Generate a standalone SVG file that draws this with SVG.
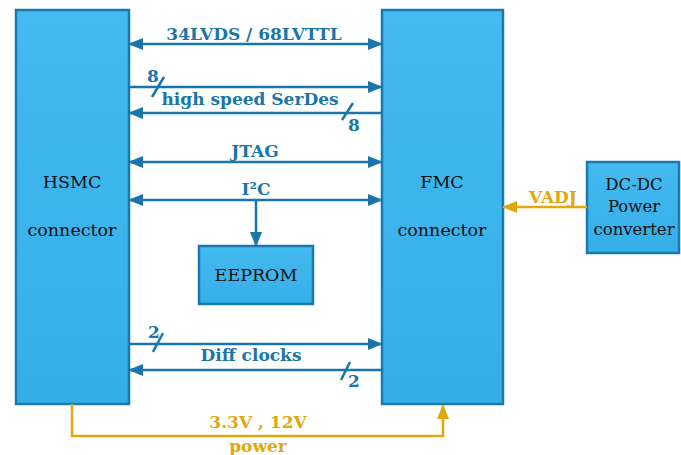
<svg xmlns="http://www.w3.org/2000/svg" width="681" height="455" viewBox="0 0 681 455">
<defs>
<linearGradient id="bg" x1="0" y1="0" x2="0" y2="1"><stop offset="0" stop-color="#45b9f0"/><stop offset="1" stop-color="#35aee8"/></linearGradient>
<marker id="ab" viewBox="0 0 15 12" refX="14" refY="6" markerWidth="15" markerHeight="12" markerUnits="userSpaceOnUse" orient="auto-start-reverse"><path d="M0,0 L15,6 L0,12 z" fill="#1a75a8"/></marker>
<marker id="ag" viewBox="0 0 15 12" refX="14" refY="6" markerWidth="15" markerHeight="12" markerUnits="userSpaceOnUse" orient="auto-start-reverse"><path d="M0,0 L15,6 L0,12 z" fill="#e0a80c"/></marker>
</defs>
<style>
.box{fill:url(#bg);stroke:#1a79ad;stroke-width:2.5}
.lbl{font-family:"DejaVu Serif",serif;font-size:17.5px;fill:#111;text-anchor:middle}
.sm{font-size:16.5px}
.b{stroke:#1a75a8;stroke-width:2.5;fill:none}
.g{stroke:#e0a80c;stroke-width:2.5;fill:none}
.bt{font-family:"DejaVu Serif",serif;font-weight:bold;font-size:17px;fill:#1a75a8;text-anchor:middle}
.gt{font-family:"DejaVu Serif",serif;font-weight:bold;font-size:17px;fill:#e0a80c;text-anchor:middle}
</style>
<g id="hsmc"><rect class="box" x="16" y="10" width="113" height="394"/><text class="lbl" x="72" y="188">HSMC</text><text class="lbl" x="72" y="236">connector</text></g>
<g id="fmc"><rect class="box" x="382" y="10" width="121" height="394"/><text class="lbl" x="442" y="188">FMC</text><text class="lbl" x="442" y="236">connector</text></g>
<g id="dcdc"><rect class="box" x="587" y="162" width="92" height="91"/><text class="lbl sm" x="634" y="190">DC-DC</text><text class="lbl sm" x="634" y="212">Power</text><text class="lbl sm" x="634" y="235">converter</text></g>
<g id="eeprom"><rect class="box" x="199" y="246" width="114" height="58"/><text class="lbl" x="256" y="281">EEPROM</text></g>
<g id="connectors">
<line class="b" x1="129" y1="44" x2="382" y2="44" marker-start="url(#ab)" marker-end="url(#ab)"/>
<text class="bt" x="254" y="40">34LVDS / 68LVTTL</text>
<line class="b" x1="129" y1="87" x2="382" y2="87" marker-end="url(#ab)"/>
<line class="b" x1="152" y1="97" x2="164" y2="77"/>
<text class="bt" x="153" y="82">8</text>
<line class="b" x1="382" y1="113" x2="129" y2="113" marker-end="url(#ab)"/>
<line class="b" x1="342" y1="120" x2="353" y2="103"/>
<text class="bt" x="354" y="131">8</text>
<text class="bt" x="250" y="105">high speed SerDes</text>
<line class="b" x1="129" y1="162" x2="382" y2="162" marker-start="url(#ab)" marker-end="url(#ab)"/>
<text class="bt" x="255" y="157">JTAG</text>
<line class="b" x1="129" y1="200" x2="382" y2="200" marker-start="url(#ab)" marker-end="url(#ab)"/>
<text class="bt" x="256" y="195">I²C</text>
<line class="b" x1="256" y1="200" x2="256" y2="246" marker-end="url(#ab)"/>
<line class="b" x1="129" y1="344" x2="382" y2="344" marker-end="url(#ab)"/>
<line class="b" x1="153" y1="352" x2="163" y2="333"/>
<text class="bt" x="154" y="338">2</text>
<line class="b" x1="382" y1="370" x2="129" y2="370" marker-end="url(#ab)"/>
<line class="b" x1="341" y1="380" x2="350" y2="362"/>
<text class="bt" x="354" y="387">2</text>
<text class="bt" x="251" y="361">Diff clocks</text>
<line class="g" x1="587" y1="207" x2="503" y2="207" marker-end="url(#ag)"/>
<text class="gt" x="553" y="203">VADJ</text>
<polyline class="g" points="72,404 72,436 443,436 443,405" marker-end="url(#ag)"/>
<text class="gt" x="258" y="428">3.3V , 12V</text>
<text class="gt" x="258" y="452">power</text>
</g>
</svg>
